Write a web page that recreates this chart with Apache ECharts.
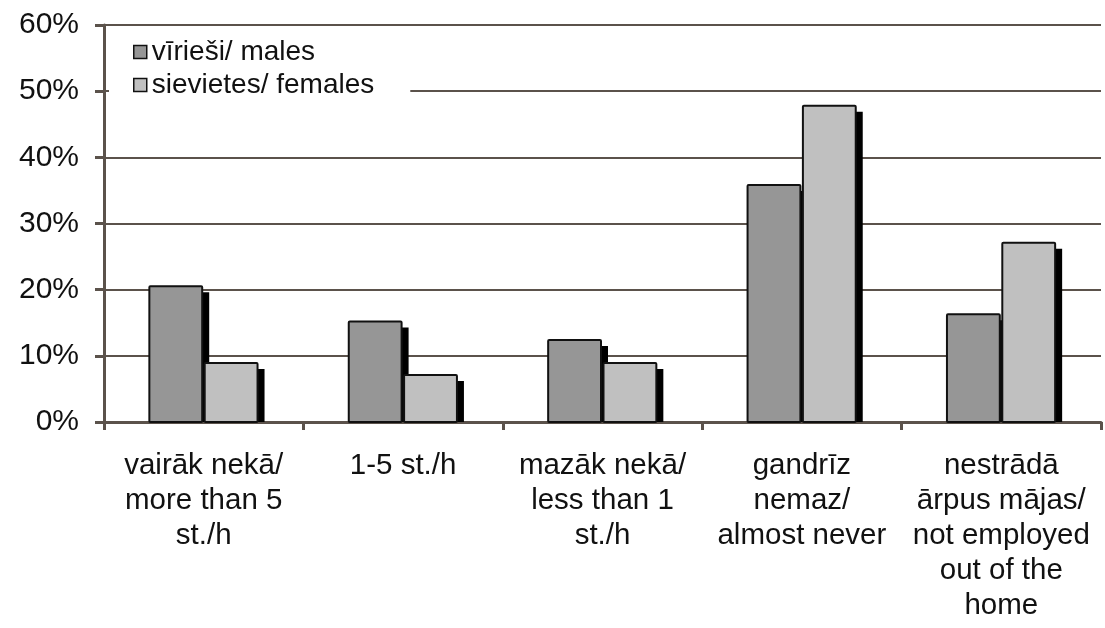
<!DOCTYPE html>
<html>
<head>
<meta charset="utf-8">
<script src="https://cdn.jsdelivr.net/npm/echarts@6/dist/echarts.min.js"></script>
<style>
  html, body { margin: 0; padding: 0; background: #fff; }
  #chart { width: 1105px; height: 628px; }
</style>
</head>
<body>
<div id="chart"></div>
<script>
var categories = [
    'vairāk nekā/\nmore than 5\nst./h',
    '1-5 st./h',
    'mazāk nekā/\nless than 1\nst./h',
    'gandrīz\nnemaz/\nalmost never',
    'nestrādā\nārpus mājas/\nnot employed\nout of the\nhome'
];
var males = [20.5, 15.2, 12.4, 35.8, 16.3];
var females = [8.9, 7.1, 8.9, 47.8, 27.1];
var seriesNames = ['vīrieši/ males', 'sievietes/ females'];
var seriesColors = ['#969696', '#c0c0c0'];

var chartDom = document.getElementById('chart');
var myChart = echarts.init(chartDom);
var axisColor = '#5b524b';
var font = 'Liberation Sans, Arial, sans-serif';

// bar with a hard black drop shadow on the right, drawn through the axis scales
function shadowBar(side, color) {
    return function (params, api) {
        var base = api.coord([api.value(0), 0]);
        var top = api.coord([api.value(0), api.value(1)]);
        var band = api.size([1, 0])[0];
        var w = band * 0.265;
        var x = side === 0 ? base[0] - 1.5 - w : base[0] + 1;
        var h = base[1] - top[1];
        return {
            type: 'group',
            children: [
                {
                    type: 'rect',
                    shape: { x: x + 7, y: top[1] + 6, width: w, height: h - 6 },
                    style: { fill: '#000' }
                },
                {
                    type: 'rect',
                    shape: { x: x, y: top[1], width: w, height: h, r: 1 },
                    style: { fill: color, stroke: '#111', lineWidth: 2 }
                }
            ]
        };
    };
}

function toPairs(arr) {
    return arr.map(function (v, i) { return [i, v]; });
}

var option = {
    animation: false,
    grid: {
        left: 104,
        right: 4,
        top: 25,
        bottom: 206
    },
    legend: {
        orient: 'vertical',
        left: 109,
        top: 32,
        padding: [6, 36, 8, 24],
        backgroundColor: '#fff',
        icon: 'rect',
        itemWidth: 13,
        itemHeight: 13,
        itemGap: 5,
        itemStyle: { borderColor: '#111', borderWidth: 1.5 },
        textStyle: { fontFamily: font, fontSize: 28, color: '#111' },
        data: seriesNames
    },
    xAxis: {
        type: 'category',
        data: categories,
        axisLine: { lineStyle: { color: axisColor, width: 3 } },
        axisTick: { show: true, length: 8, lineStyle: { color: axisColor, width: 3 } },
        axisLabel: {
            interval: 0,
            margin: 26,
            fontFamily: font,
            fontSize: 29.5,
            lineHeight: 35,
            color: '#111'
        }
    },
    yAxis: {
        type: 'value',
        min: 0,
        max: 60,
        interval: 10,
        axisLine: { show: true, lineStyle: { color: axisColor, width: 3 } },
        axisTick: { show: true, length: 9, lineStyle: { color: axisColor, width: 3 } },
        axisLabel: {
            formatter: '{value}%',
            margin: 25,
            fontFamily: font,
            fontSize: 30,
            color: '#111'
        },
        splitLine: { show: true, lineStyle: { color: axisColor, width: 2 } }
    },
    series: [
        {
            name: seriesNames[0],
            type: 'custom',
            data: toPairs(males),
            encode: { x: 0, y: 1 },
            itemStyle: { color: seriesColors[0] },
            renderItem: shadowBar(0, seriesColors[0])
        },
        {
            name: seriesNames[1],
            type: 'custom',
            data: toPairs(females),
            encode: { x: 0, y: 1 },
            itemStyle: { color: seriesColors[1] },
            renderItem: shadowBar(1, seriesColors[1])
        }
    ]
};
option && myChart.setOption(option);
</script>
</body>
</html>
